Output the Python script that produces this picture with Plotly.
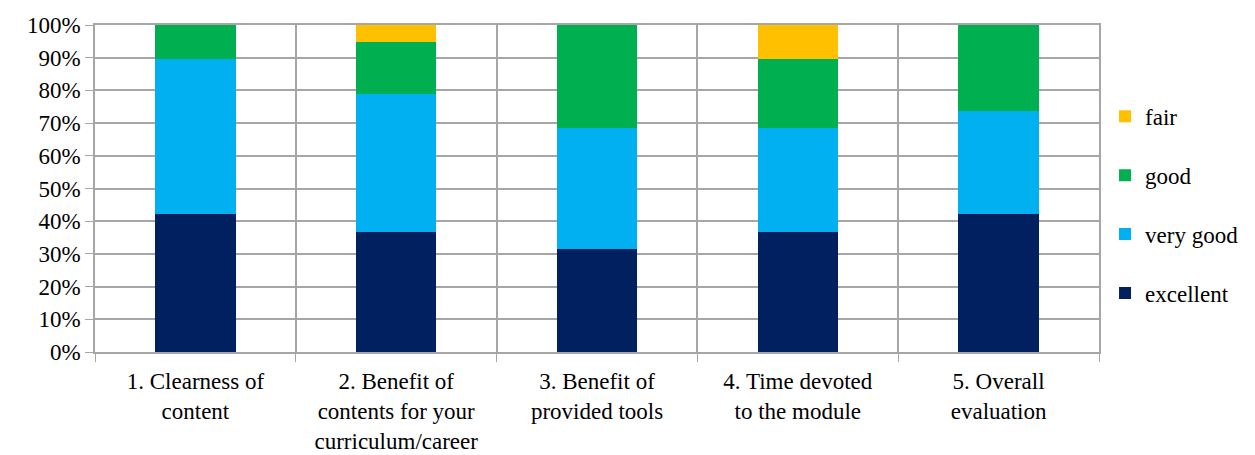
import plotly.graph_objects as go

categories = ["1. Clearness of<br>content",
              "2. Benefit of<br>contents for your<br>curriculum/career",
              "3. Benefit of<br>provided tools",
              "4. Time devoted<br>to the module",
              "5. Overall<br>evaluation"]
excellent = [42.1, 36.8, 31.6, 36.8, 42.1]
very_good = [47.4, 42.1, 36.8, 31.6, 31.6]
good = [10.5, 15.8, 31.6, 21.1, 26.3]
fair = [0.0, 5.3, 0.0, 10.5, 0.0]

series = [("excellent", excellent, "#002060", 4),
          ("very good", very_good, "#00B0F0", 3),
          ("good", good, "#00B050", 2),
          ("fair", fair, "#FFC000", 1)]

fig = go.Figure()
for name, vals, col, rank in series:
    fig.add_trace(go.Bar(x=categories, y=vals, name=name, marker_color=col,
                         marker_line_width=0, legendgroup=name, legendrank=rank))

grid = "#A6A6A6"
FONT = "Liberation Serif, DejaVu Serif, Times New Roman, Times, serif"
SIZE = 23
fig.update_layout(
    barmode="stack", bargap=0.6,
    width=1247, height=447,
    margin=dict(l=87, r=155, t=17, b=103),
    paper_bgcolor="white", plot_bgcolor="white",
    font=dict(family=FONT, size=SIZE, color="#000000"),
    legend=dict(traceorder="grouped", tracegroupgap=26,
                x=1.005, y=0.45, yanchor="middle", xanchor="left",
                font=dict(family=FONT, size=SIZE), itemwidth=30),
    showlegend=True,
)
fig.update_xaxes(showgrid=True, gridcolor=grid, gridwidth=1.5, tickson="boundaries",
                 ticks="outside", ticklen=8, tickcolor=grid, showline=True,
                 linecolor=grid, linewidth=1.5, mirror=True, automargin=False,
                 ticklabelstandoff=8,
                 tickfont=dict(family=FONT, size=SIZE))
fig.update_yaxes(range=[0, 100], dtick=10, ticksuffix="%", showgrid=True,
                 gridcolor=grid, gridwidth=1.5, ticks="outside", ticklen=8,
                 tickcolor=grid, showline=True, linecolor=grid, linewidth=1.5,
                 mirror=True, zeroline=False, automargin=False,
                 tickfont=dict(family=FONT, size=SIZE))
fig.write_html("out.html")
